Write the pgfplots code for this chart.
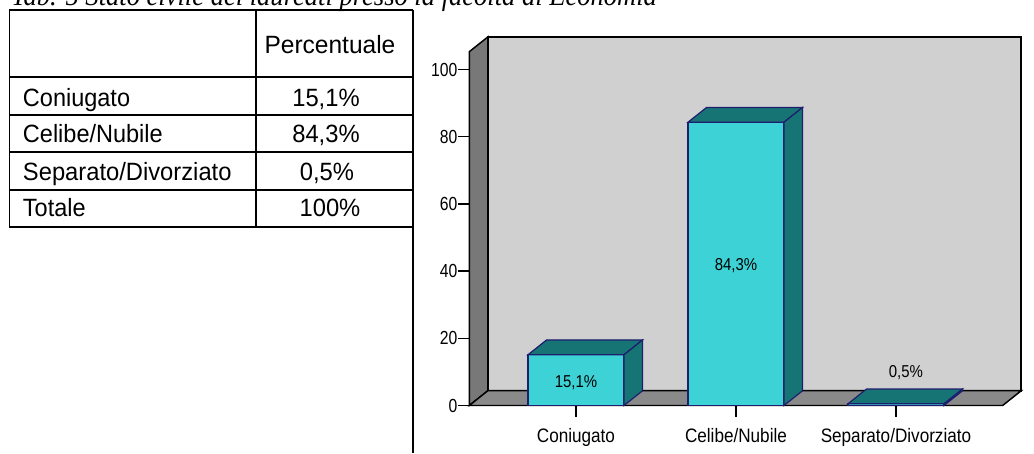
\documentclass[border=0pt]{standalone}
\usepackage{fontspec}
\setmainfont{Liberation Sans}
\newfontfamily\timesfont{Liberation Serif}
\usepackage{graphicx}
\usepackage{pgfplots}
\pgfplotsset{compat=1.18}
\definecolor{wallback}{HTML}{D0D0D0}
\definecolor{wallleft}{HTML}{787878}
\definecolor{floorc}{HTML}{8A8A8A}
\definecolor{barfront}{HTML}{3DD3D6}
\definecolor{bardark}{HTML}{177474}
\definecolor{barline}{HTML}{1E1E6E}
\newcommand\sx[1]{\scalebox{0.88}[1]{#1}}
\begin{document}
\begin{tikzpicture}
\begin{scope}[x=0.75pt,y=-0.75pt]
  \coordinate (AX) at (469.3,405.5);
  \foreach \yy in {10,77,115,152,190,227} \draw[line width=0.8pt] (9.3,\yy) -- (413,\yy);
  \draw[line width=0.8pt] (9.3,10) -- (9.3,227);
  \draw[line width=0.8pt] (256,10) -- (256,227);
  \draw[line width=0.8pt] (413,10) -- (413,453);
  \tikzset{tt/.style={inner sep=0pt, font=\fontsize{18.75pt}{22pt}\selectfont}}
  \node[tt, anchor=base] at (330,53.3) {\scalebox{0.98}[1]{Percentuale}};
  \node[tt, anchor=base west] at (22.7,106) {\scalebox{0.94}[1]{Coniugato}};
  \node[tt, anchor=base west] at (22.7,142.7) {\scalebox{0.94}[1]{Celibe/Nubile}};
  \node[tt, anchor=base west] at (22.7,180) {\scalebox{0.95}[1]{Separato/Divorziato}};
  \node[tt, anchor=base west] at (22.7,216.7) {\scalebox{0.94}[1]{Totale}};
  \node[tt, anchor=base] at (326,106) {\scalebox{0.95}[1]{15,1\%}};
  \node[tt, anchor=base] at (326,142.7) {\scalebox{0.95}[1]{84,3\%}};
  \node[tt, anchor=base] at (327,180) {\scalebox{0.95}[1]{0,5\%}};
  \node[tt, anchor=base] at (330,216.7) {\scalebox{0.95}[1]{100\%}};
  \node[anchor=base west, inner sep=0pt, font=\timesfont\itshape\fontsize{21.4pt}{24pt}\selectfont] at (11,5.7) {\scalebox{0.93}[1]{Tab. 5 Stato civile dei laureati presso la facoltà di Economia}};
\end{scope}
\begin{axis}[
  at={(AX)}, anchor=south west, scale only axis,
  width=400pt, height=265.35pt,
  xmin=-0.6667, xmax=2.6667, ymin=0, ymax=105.3,
  clip=false,
  axis x line*=bottom, axis y line*=left,
  axis line style={line width=1.1pt, -},
  xtick={0,1,2},
  xticklabels={\sx{Coniugato},\sx{Celibe/Nubile},\sx{Separato/Divorziato}},
  ytick={0,20,40,60,80,100},
  /pgf/number format/assume math mode=true,
  yticklabel={\scalebox{0.83}[1]{\pgfmathprintnumber{\tick}}},
  tick align=outside, major tick length=8.3pt,
  tick style={line width=1.1pt, black},
  xticklabel style={font=\fontsize{14.6pt}{16pt}\selectfont, inner sep=0pt, anchor=north, yshift=-8.5pt},
  yticklabel style={font=\fontsize{14.2pt}{15pt}\selectfont, inner sep=0pt, anchor=east, xshift=-0.5pt},
]
  % walls (decoration)
  \filldraw[fill=wallback, draw=black, line width=1.3pt] (axis cs:-0.5507,4.4) rectangle (axis cs:2.7827,109.7);
  \filldraw[fill=wallleft, draw=black, line width=1.1pt] (axis cs:-0.6667,0) -- (axis cs:-0.5507,4.4) -- (axis cs:-0.5507,109.7) -- (axis cs:-0.6667,105.3) -- cycle;
  \filldraw[fill=floorc, draw=black, line width=1.1pt] (axis cs:-0.6667,0) -- (axis cs:2.6667,0) -- (axis cs:2.7827,4.4) -- (axis cs:-0.5507,4.4) -- cycle;
  % bar 1: 15.1
  \addplot[fill=barfront, draw=barline, line width=0.9pt] coordinates {(-0.3,0) (0.3,0) (0.3,15.1) (-0.3,15.1)} -- cycle;
  \addplot[fill=bardark, draw=barline, line width=0.9pt] coordinates {(-0.3,15.1) (0.3,15.1) (0.416,19.5) (-0.184,19.5)} -- cycle;
  \addplot[fill=bardark, draw=barline, line width=0.9pt] coordinates {(0.3,0) (0.416,4.4) (0.416,19.5) (0.3,15.1)} -- cycle;
  % bar 2: 84.3
  \addplot[fill=barfront, draw=barline, line width=0.9pt] coordinates {(0.7,0) (1.3,0) (1.3,84.3) (0.7,84.3)} -- cycle;
  \addplot[fill=bardark, draw=barline, line width=0.9pt] coordinates {(0.7,84.3) (1.3,84.3) (1.416,88.7) (0.816,88.7)} -- cycle;
  \addplot[fill=bardark, draw=barline, line width=0.9pt] coordinates {(1.3,0) (1.416,4.4) (1.416,88.7) (1.3,84.3)} -- cycle;
  % bar 3: 0.5
  \addplot[fill=barfront, draw=barline, line width=0.9pt] coordinates {(1.7,0) (2.3,0) (2.3,0.5) (1.7,0.5)} -- cycle;
  \addplot[fill=bardark, draw=barline, line width=0.9pt] coordinates {(1.7,0.5) (2.3,0.5) (2.416,4.9) (1.816,4.9)} -- cycle;
  \addplot[fill=bardark, draw=barline, line width=0.9pt] coordinates {(2.3,0) (2.416,4.4) (2.416,4.9) (2.3,0.5)} -- cycle;
  % data labels
  \addplot[draw=none, mark=none, point meta=explicit symbolic,
    nodes near coords={\scalebox{0.87}[1]{\pgfplotspointmeta}},
    nodes near coords align={center},
    every node near coord/.append style={font=\fontsize{12.9pt}{14pt}\selectfont, inner sep=0pt, text=black}]
    coordinates {(0,6.85) [15,1\%] (1,41.5) [84,3\%] (2.0625,9.7) [0,5\%]};
\end{axis}
\pgfresetboundingbox
\path[x=0.75pt,y=-0.75pt] (0,0) rectangle (1034,453);
\end{tikzpicture}
\end{document}
